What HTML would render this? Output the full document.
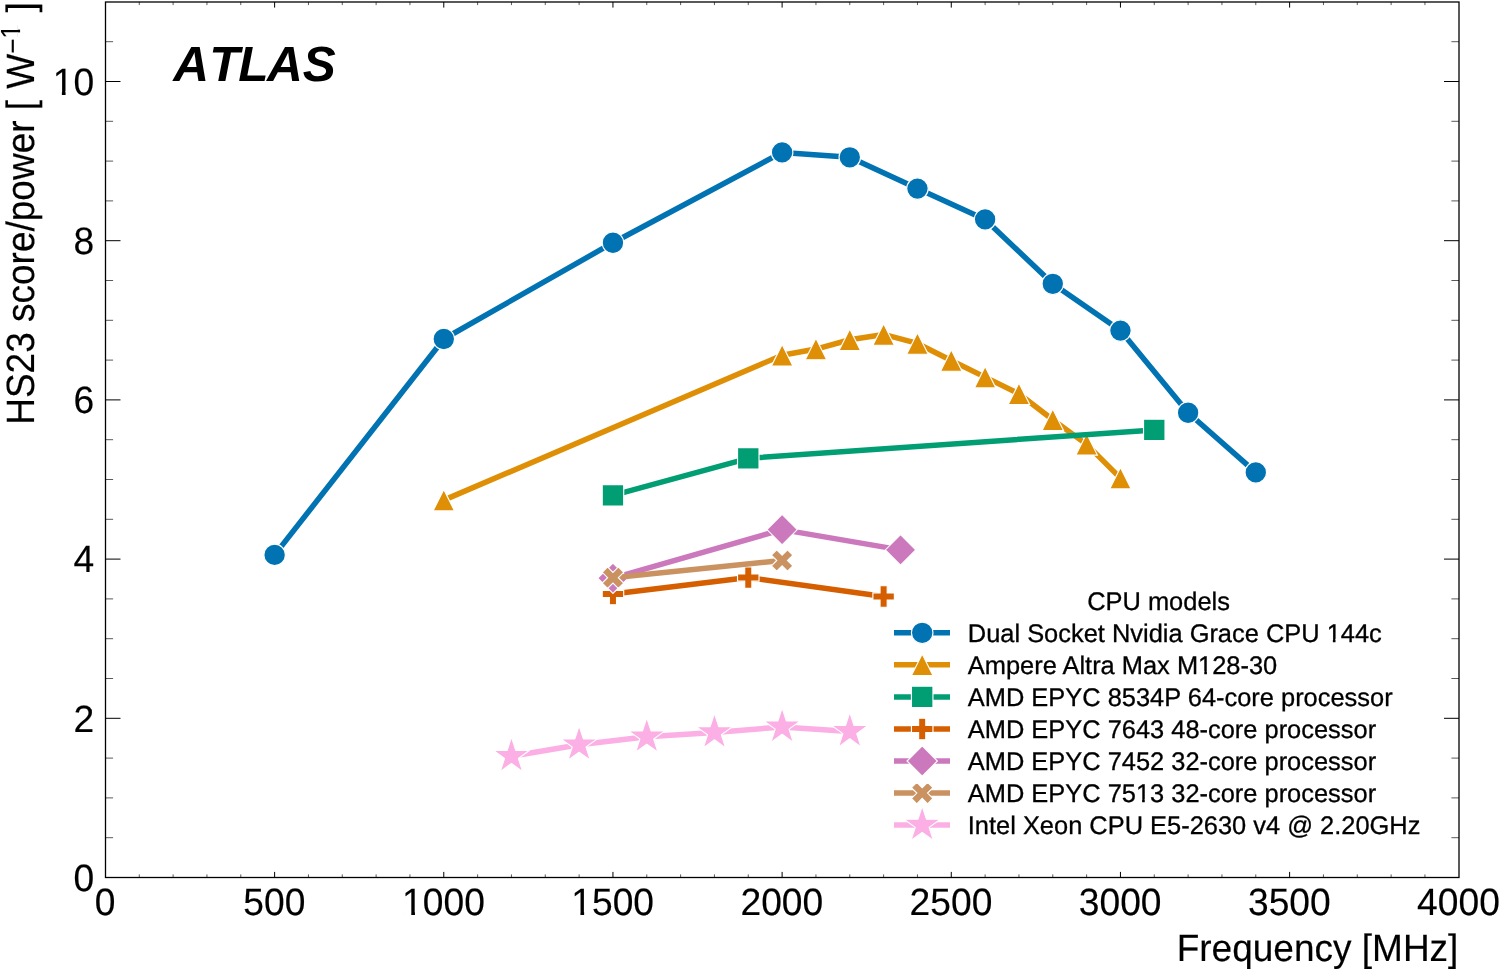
<!DOCTYPE html>
<html><head><meta charset="utf-8"><title>HS23 score/power vs Frequency</title>
<style>html,body{margin:0;padding:0;background:#fff;}svg{display:block;will-change:transform;}text{font-family:"Liberation Sans",sans-serif;text-rendering:geometricPrecision;fill:#000;stroke:#000;stroke-width:0.15px;}.lg text{stroke-width:0.3px;}</style></head><body>
<svg width="1500" height="971" viewBox="0 0 1500 971">
<rect x="0" y="0" width="1500" height="971" fill="#fff"/>
<g stroke="#000" fill="none">
<path d="M274.62,877.5v-5.6M274.62,2.0v5.6M443.78,877.5v-5.6M443.78,2.0v5.6M612.95,877.5v-5.6M612.95,2.0v5.6M782.12,877.5v-5.6M782.12,2.0v5.6M951.28,877.5v-5.6M951.28,2.0v5.6M1120.45,877.5v-5.6M1120.45,2.0v5.6M1289.62,877.5v-5.6M1289.62,2.0v5.6" stroke-width="1.0"/>
<path d="M139.28,877.5v-3.1M139.28,2.0v3.1M173.12,877.5v-3.1M173.12,2.0v3.1M206.95,877.5v-3.1M206.95,2.0v3.1M240.78,877.5v-3.1M240.78,2.0v3.1M308.45,877.5v-3.1M308.45,2.0v3.1M342.28,877.5v-3.1M342.28,2.0v3.1M376.12,877.5v-3.1M376.12,2.0v3.1M409.95,877.5v-3.1M409.95,2.0v3.1M477.62,877.5v-3.1M477.62,2.0v3.1M511.45,877.5v-3.1M511.45,2.0v3.1M545.28,877.5v-3.1M545.28,2.0v3.1M579.12,877.5v-3.1M579.12,2.0v3.1M646.78,877.5v-3.1M646.78,2.0v3.1M680.62,877.5v-3.1M680.62,2.0v3.1M714.45,877.5v-3.1M714.45,2.0v3.1M748.28,877.5v-3.1M748.28,2.0v3.1M815.95,877.5v-3.1M815.95,2.0v3.1M849.78,877.5v-3.1M849.78,2.0v3.1M883.62,877.5v-3.1M883.62,2.0v3.1M917.45,877.5v-3.1M917.45,2.0v3.1M985.12,877.5v-3.1M985.12,2.0v3.1M1018.95,877.5v-3.1M1018.95,2.0v3.1M1052.78,877.5v-3.1M1052.78,2.0v3.1M1086.62,877.5v-3.1M1086.62,2.0v3.1M1154.28,877.5v-3.1M1154.28,2.0v3.1M1188.12,877.5v-3.1M1188.12,2.0v3.1M1221.95,877.5v-3.1M1221.95,2.0v3.1M1255.78,877.5v-3.1M1255.78,2.0v3.1M1323.45,877.5v-3.1M1323.45,2.0v3.1M1357.28,877.5v-3.1M1357.28,2.0v3.1M1391.12,877.5v-3.1M1391.12,2.0v3.1M1424.95,877.5v-3.1M1424.95,2.0v3.1" stroke-width="0.65"/>
<path d="M105.5,718.30h15M1459.0,718.30h-15M105.5,559.10h15M1459.0,559.10h-15M105.5,399.90h15M1459.0,399.90h-15M105.5,240.70h15M1459.0,240.70h-15M105.5,81.50h15M1459.0,81.50h-15" stroke-width="1.0"/>
<path d="M105.5,837.70h7.6M1459.0,837.70h-7.6M105.5,797.90h7.6M1459.0,797.90h-7.6M105.5,758.10h7.6M1459.0,758.10h-7.6M105.5,678.50h7.6M1459.0,678.50h-7.6M105.5,638.70h7.6M1459.0,638.70h-7.6M105.5,598.90h7.6M1459.0,598.90h-7.6M105.5,519.30h7.6M1459.0,519.30h-7.6M105.5,479.50h7.6M1459.0,479.50h-7.6M105.5,439.70h7.6M1459.0,439.70h-7.6M105.5,360.10h7.6M1459.0,360.10h-7.6M105.5,320.30h7.6M1459.0,320.30h-7.6M105.5,280.50h7.6M1459.0,280.50h-7.6M105.5,200.90h7.6M1459.0,200.90h-7.6M105.5,161.10h7.6M1459.0,161.10h-7.6M105.5,121.30h7.6M1459.0,121.30h-7.6M105.5,41.70h7.6M1459.0,41.70h-7.6" stroke-width="0.65"/>
</g>
<rect x="105.5" y="2.0" width="1353.5" height="875.5" fill="none" stroke="#000" stroke-width="1.3"/>
<g font-size="37.2" text-anchor="middle">
<text transform="translate(105.15,915.4) scale(1,1.025)">0</text>
<text transform="translate(274.32,915.4) scale(1,1.025)">500</text>
<text transform="translate(443.48,915.4) scale(1,1.025)">1000</text>
<text transform="translate(612.65,915.4) scale(1,1.025)">1500</text>
<text transform="translate(781.82,915.4) scale(1,1.025)">2000</text>
<text transform="translate(950.98,915.4) scale(1,1.025)">2500</text>
<text transform="translate(1120.15,915.4) scale(1,1.025)">3000</text>
<text transform="translate(1289.32,915.4) scale(1,1.025)">3500</text>
<text transform="translate(1458.48,915.4) scale(1,1.025)">4000</text>
</g>
<g font-size="37.2" text-anchor="end">
<text transform="translate(94.1,890.80) scale(1,1.025)">0</text>
<text transform="translate(94.1,731.60) scale(1,1.025)">2</text>
<text transform="translate(94.1,572.40) scale(1,1.025)">4</text>
<text transform="translate(94.1,413.20) scale(1,1.025)">6</text>
<text transform="translate(94.1,254.00) scale(1,1.025)">8</text>
<text transform="translate(94.1,94.80) scale(1,1.025)">10</text>
</g>
<text transform="translate(1458.4,960.5) scale(1,1.03)" font-size="37" text-anchor="end">Frequency [MHz]</text>
<text transform="translate(33.9,2.2) rotate(-90) scale(1,1.065)" font-size="37" text-anchor="end">HS23 score/power [ <tspan dx="0.85">W</tspan><tspan font-size="25.9" dx="0" dy="-10.9">−</tspan><tspan font-size="25.9" dy="-1.9">1</tspan><tspan dy="12.8" dx="1.5"> ]</tspan></text>
<text x="173" y="81" font-size="49.6" font-weight="bold" font-style="italic" style="font-kerning:none;stroke:none" dx="0.3 0.1 -1.3 -1.6 0">ATLAS</text>
<path d="M274.62,554.90 L443.78,339.00 L612.95,242.70 L782.12,152.40 L849.78,157.30 L917.45,188.60 L985.12,219.40 L1052.78,283.80 L1120.45,330.60 L1188.12,412.70 L1255.78,472.40" fill="none" stroke="#0173b2" stroke-width="5.5" stroke-linejoin="round" stroke-linecap="butt"/>
<circle cx="274.62" cy="554.90" r="10.75" fill="#0173b2" stroke="#fff" stroke-width="1.15" stroke-linejoin="miter"/>
<circle cx="443.78" cy="339.00" r="10.75" fill="#0173b2" stroke="#fff" stroke-width="1.15" stroke-linejoin="miter"/>
<circle cx="612.95" cy="242.70" r="10.75" fill="#0173b2" stroke="#fff" stroke-width="1.15" stroke-linejoin="miter"/>
<circle cx="782.12" cy="152.40" r="10.75" fill="#0173b2" stroke="#fff" stroke-width="1.15" stroke-linejoin="miter"/>
<circle cx="849.78" cy="157.30" r="10.75" fill="#0173b2" stroke="#fff" stroke-width="1.15" stroke-linejoin="miter"/>
<circle cx="917.45" cy="188.60" r="10.75" fill="#0173b2" stroke="#fff" stroke-width="1.15" stroke-linejoin="miter"/>
<circle cx="985.12" cy="219.40" r="10.75" fill="#0173b2" stroke="#fff" stroke-width="1.15" stroke-linejoin="miter"/>
<circle cx="1052.78" cy="283.80" r="10.75" fill="#0173b2" stroke="#fff" stroke-width="1.15" stroke-linejoin="miter"/>
<circle cx="1120.45" cy="330.60" r="10.75" fill="#0173b2" stroke="#fff" stroke-width="1.15" stroke-linejoin="miter"/>
<circle cx="1188.12" cy="412.70" r="10.75" fill="#0173b2" stroke="#fff" stroke-width="1.15" stroke-linejoin="miter"/>
<circle cx="1255.78" cy="472.40" r="10.75" fill="#0173b2" stroke="#fff" stroke-width="1.15" stroke-linejoin="miter"/>
<path d="M443.78,500.15 L782.12,355.25 L815.95,349.05 L849.78,339.75 L883.62,334.45 L917.45,343.45 L951.28,360.45 L985.12,377.15 L1018.95,393.75 L1052.78,419.75 L1086.62,444.35 L1120.45,478.15" fill="none" stroke="#de8f05" stroke-width="5.5" stroke-linejoin="round" stroke-linecap="butt"/>
<polygon points="443.78,489.40 433.03,510.90 454.53,510.90" fill="#de8f05" stroke="#fff" stroke-width="1.15" stroke-linejoin="miter"/>
<polygon points="782.12,344.50 771.37,366.00 792.87,366.00" fill="#de8f05" stroke="#fff" stroke-width="1.15" stroke-linejoin="miter"/>
<polygon points="815.95,338.30 805.20,359.80 826.70,359.80" fill="#de8f05" stroke="#fff" stroke-width="1.15" stroke-linejoin="miter"/>
<polygon points="849.78,329.00 839.03,350.50 860.53,350.50" fill="#de8f05" stroke="#fff" stroke-width="1.15" stroke-linejoin="miter"/>
<polygon points="883.62,323.70 872.87,345.20 894.37,345.20" fill="#de8f05" stroke="#fff" stroke-width="1.15" stroke-linejoin="miter"/>
<polygon points="917.45,332.70 906.70,354.20 928.20,354.20" fill="#de8f05" stroke="#fff" stroke-width="1.15" stroke-linejoin="miter"/>
<polygon points="951.28,349.70 940.53,371.20 962.03,371.20" fill="#de8f05" stroke="#fff" stroke-width="1.15" stroke-linejoin="miter"/>
<polygon points="985.12,366.40 974.37,387.90 995.87,387.90" fill="#de8f05" stroke="#fff" stroke-width="1.15" stroke-linejoin="miter"/>
<polygon points="1018.95,383.00 1008.20,404.50 1029.70,404.50" fill="#de8f05" stroke="#fff" stroke-width="1.15" stroke-linejoin="miter"/>
<polygon points="1052.78,409.00 1042.03,430.50 1063.53,430.50" fill="#de8f05" stroke="#fff" stroke-width="1.15" stroke-linejoin="miter"/>
<polygon points="1086.62,433.60 1075.87,455.10 1097.37,455.10" fill="#de8f05" stroke="#fff" stroke-width="1.15" stroke-linejoin="miter"/>
<polygon points="1120.45,467.40 1109.70,488.90 1131.20,488.90" fill="#de8f05" stroke="#fff" stroke-width="1.15" stroke-linejoin="miter"/>
<path d="M612.95,495.30 L748.28,458.30 L1154.28,429.90" fill="none" stroke="#029e73" stroke-width="5.5" stroke-linejoin="round" stroke-linecap="butt"/>
<polygon points="602.20,484.55 623.70,484.55 623.70,506.05 602.20,506.05" fill="#029e73" stroke="#fff" stroke-width="1.15" stroke-linejoin="miter"/>
<polygon points="737.53,447.55 759.03,447.55 759.03,469.05 737.53,469.05" fill="#029e73" stroke="#fff" stroke-width="1.15" stroke-linejoin="miter"/>
<polygon points="1143.53,419.15 1165.03,419.15 1165.03,440.65 1143.53,440.65" fill="#029e73" stroke="#fff" stroke-width="1.15" stroke-linejoin="miter"/>
<path d="M612.95,594.00 L748.28,577.60 L883.62,596.50" fill="none" stroke="#d55e00" stroke-width="5.5" stroke-linejoin="round" stroke-linecap="butt"/>
<polygon points="609.37,583.25 616.53,583.25 616.53,590.42 623.70,590.42 623.70,597.58 616.53,597.58 616.53,604.75 609.37,604.75 609.37,597.58 602.20,597.58 602.20,590.42 609.37,590.42" fill="#d55e00" stroke="#fff" stroke-width="1.15" stroke-linejoin="miter"/>
<polygon points="744.70,566.85 751.87,566.85 751.87,574.02 759.03,574.02 759.03,581.18 751.87,581.18 751.87,588.35 744.70,588.35 744.70,581.18 737.53,581.18 737.53,574.02 744.70,574.02" fill="#d55e00" stroke="#fff" stroke-width="1.15" stroke-linejoin="miter"/>
<polygon points="880.03,585.75 887.20,585.75 887.20,592.92 894.37,592.92 894.37,600.08 887.20,600.08 887.20,607.25 880.03,607.25 880.03,600.08 872.87,600.08 872.87,592.92 880.03,592.92" fill="#d55e00" stroke="#fff" stroke-width="1.15" stroke-linejoin="miter"/>
<path d="M612.95,578.20 L782.12,529.60 L900.53,549.90" fill="none" stroke="#cc78bc" stroke-width="5.5" stroke-linejoin="round" stroke-linecap="butt"/>
<polygon points="612.95,563.00 628.15,578.20 612.95,593.40 597.75,578.20" fill="#cc78bc" stroke="#fff" stroke-width="1.15" stroke-linejoin="miter"/>
<polygon points="782.12,514.40 797.32,529.60 782.12,544.80 766.91,529.60" fill="#cc78bc" stroke="#fff" stroke-width="1.15" stroke-linejoin="miter"/>
<polygon points="900.53,534.70 915.74,549.90 900.53,565.10 885.33,549.90" fill="#cc78bc" stroke="#fff" stroke-width="1.15" stroke-linejoin="miter"/>
<path d="M612.95,577.70 L782.12,560.50" fill="none" stroke="#ca9161" stroke-width="5.5" stroke-linejoin="round" stroke-linecap="butt"/>
<polygon points="607.57,566.95 612.95,572.33 618.32,566.95 623.70,572.33 618.32,577.70 623.70,583.08 618.32,588.45 612.95,583.08 607.57,588.45 602.20,583.08 607.57,577.70 602.20,572.33" fill="#ca9161" stroke="#fff" stroke-width="1.15" stroke-linejoin="miter"/>
<polygon points="776.74,549.75 782.12,555.12 787.49,549.75 792.87,555.12 787.49,560.50 792.87,565.88 787.49,571.25 782.12,565.88 776.74,571.25 771.37,565.88 776.74,560.50 771.37,555.12" fill="#ca9161" stroke="#fff" stroke-width="1.15" stroke-linejoin="miter"/>
<path d="M511.45,756.20 L579.12,744.80 L646.78,736.80 L714.45,732.50 L782.12,726.90 L849.78,731.40" fill="none" stroke="#fbafe4" stroke-width="5.5" stroke-linejoin="round" stroke-linecap="butt"/>
<polygon points="511.45,737.10 507.16,750.30 493.28,750.30 504.51,758.45 500.22,771.65 511.45,763.50 522.68,771.65 518.39,758.45 529.61,750.30 515.74,750.30" fill="#fbafe4" stroke="#fff" stroke-width="1.15" stroke-linejoin="bevel"/>
<polygon points="579.12,725.70 574.83,738.90 560.95,738.90 572.18,747.05 567.89,760.25 579.12,752.10 590.34,760.25 586.05,747.05 597.28,738.90 583.40,738.90" fill="#fbafe4" stroke="#fff" stroke-width="1.15" stroke-linejoin="bevel"/>
<polygon points="646.78,717.70 642.49,730.90 628.62,730.90 639.84,739.05 635.56,752.25 646.78,744.10 658.01,752.25 653.72,739.05 664.95,730.90 651.07,730.90" fill="#fbafe4" stroke="#fff" stroke-width="1.15" stroke-linejoin="bevel"/>
<polygon points="714.45,713.40 710.16,726.60 696.28,726.60 707.51,734.75 703.22,747.95 714.45,739.80 725.68,747.95 721.39,734.75 732.61,726.60 718.74,726.60" fill="#fbafe4" stroke="#fff" stroke-width="1.15" stroke-linejoin="bevel"/>
<polygon points="782.12,707.80 777.83,721.00 763.95,721.00 775.18,729.15 770.89,742.35 782.12,734.20 793.34,742.35 789.05,729.15 800.28,721.00 786.40,721.00" fill="#fbafe4" stroke="#fff" stroke-width="1.15" stroke-linejoin="bevel"/>
<polygon points="849.78,712.30 845.49,725.50 831.62,725.50 842.84,733.65 838.56,746.85 849.78,738.70 861.01,746.85 856.72,733.65 867.95,725.50 854.07,725.50" fill="#fbafe4" stroke="#fff" stroke-width="1.15" stroke-linejoin="bevel"/>
<g class="lg">
<text x="1087.2" y="610" font-size="25.43">CPU models</text>
<path d="M894,632.80H950" stroke="#0173b2" stroke-width="5.5" fill="none"/>
<circle cx="922.20" cy="632.80" r="10.75" fill="#0173b2" stroke="#fff" stroke-width="1.15" stroke-linejoin="miter"/>
<text x="967.8" y="641.60" font-size="25.43">Dual Socket Nvidia Grace CPU 144c</text>
<path d="M894,664.85H950" stroke="#de8f05" stroke-width="5.5" fill="none"/>
<polygon points="922.20,654.10 911.45,675.60 932.95,675.60" fill="#de8f05" stroke="#fff" stroke-width="1.15" stroke-linejoin="miter"/>
<text x="967.8" y="673.65" font-size="25.43">Ampere Altra Max M128-30</text>
<path d="M894,696.90H950" stroke="#029e73" stroke-width="5.5" fill="none"/>
<polygon points="911.45,686.15 932.95,686.15 932.95,707.65 911.45,707.65" fill="#029e73" stroke="#fff" stroke-width="1.15" stroke-linejoin="miter"/>
<text x="967.8" y="705.70" font-size="25.43">AMD EPYC 8534P 64-core processor</text>
<path d="M894,728.95H950" stroke="#d55e00" stroke-width="5.5" fill="none"/>
<polygon points="918.62,718.20 925.78,718.20 925.78,725.37 932.95,725.37 932.95,732.53 925.78,732.53 925.78,739.70 918.62,739.70 918.62,732.53 911.45,732.53 911.45,725.37 918.62,725.37" fill="#d55e00" stroke="#fff" stroke-width="1.15" stroke-linejoin="miter"/>
<text x="967.8" y="737.75" font-size="25.43">AMD EPYC 7643 48-core processor</text>
<path d="M894,761.00H950" stroke="#cc78bc" stroke-width="5.5" fill="none"/>
<polygon points="922.20,745.80 937.40,761.00 922.20,776.20 907.00,761.00" fill="#cc78bc" stroke="#fff" stroke-width="1.15" stroke-linejoin="miter"/>
<text x="967.8" y="769.80" font-size="25.43">AMD EPYC 7452 32-core processor</text>
<path d="M894,793.05H950" stroke="#ca9161" stroke-width="5.5" fill="none"/>
<polygon points="916.83,782.30 922.20,787.67 927.58,782.30 932.95,787.67 927.58,793.05 932.95,798.42 927.58,803.80 922.20,798.42 916.83,803.80 911.45,798.42 916.83,793.05 911.45,787.67" fill="#ca9161" stroke="#fff" stroke-width="1.15" stroke-linejoin="miter"/>
<text x="967.8" y="801.85" font-size="25.43">AMD EPYC 7513 32-core processor</text>
<path d="M894,825.10H950" stroke="#fbafe4" stroke-width="5.5" fill="none"/>
<polygon points="922.20,806.00 917.91,819.20 904.03,819.20 915.26,827.35 910.97,840.55 922.20,832.40 933.43,840.55 929.14,827.35 940.37,819.20 926.49,819.20" fill="#fbafe4" stroke="#fff" stroke-width="1.15" stroke-linejoin="bevel"/>
<text x="967.8" y="833.90" font-size="25.43">Intel Xeon CPU E5-2630 v4 @ 2.20GHz</text>
</g>
<g fill="#fff" stroke="none"><g transform="translate(443.48,915.4) scale(1,1.025)"><rect x="-39.43" y="-3.58" width="7.22" height="5.08"/><rect x="-28.53" y="-3.58" width="7.13" height="5.08"/></g><g transform="translate(612.65,915.4) scale(1,1.025)"><rect x="-39.43" y="-3.58" width="7.22" height="5.08"/><rect x="-28.53" y="-3.58" width="7.13" height="5.08"/></g><g transform="translate(94.1,94.80) scale(1,1.025)"><rect x="-39.44" y="-3.58" width="7.22" height="5.08"/><rect x="-28.53" y="-3.58" width="7.13" height="5.08"/></g><g transform="translate(33.9,2.2) rotate(-90) scale(1,1.065)"><rect x="-35.40" y="-15.53" width="5.24" height="4.23"/><rect x="-27.47" y="-15.53" width="5.24" height="4.23"/></g><rect x="1327.70" y="638.90" width="5.16" height="4.20"/><rect x="1335.50" y="638.90" width="5.16" height="4.20"/><rect x="1199.10" y="670.95" width="5.16" height="4.20"/><rect x="1206.91" y="670.95" width="5.16" height="4.20"/><rect x="1136.95" y="799.15" width="5.16" height="4.20"/><rect x="1144.75" y="799.15" width="5.16" height="4.20"/></g>
</svg></body></html>
